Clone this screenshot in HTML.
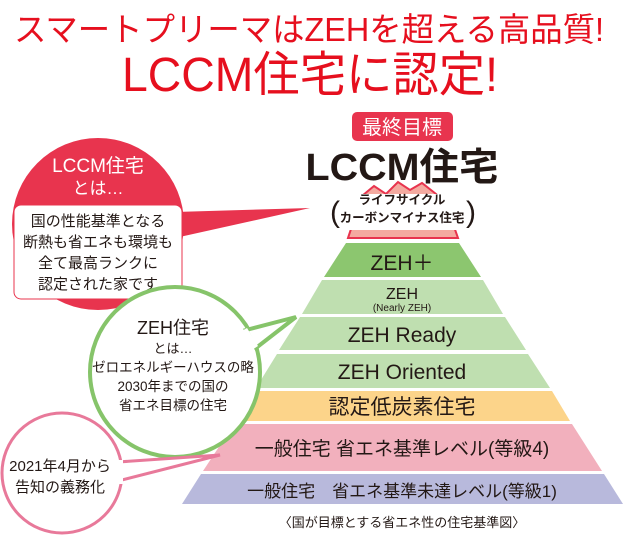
<!DOCTYPE html>
<html><head><meta charset="utf-8"><style>
html,body{margin:0;padding:0;background:#fff;}
svg{display:block;font-family:"Liberation Sans","Noto Sans CJK JP",sans-serif;}
</style></head><body>
<svg width="639" height="538" viewBox="0 0 639 538" xmlns="http://www.w3.org/2000/svg">
<text x="14" y="41" font-size="33" fill="#e60f1e" textLength="590" lengthAdjust="spacingAndGlyphs">スマートプリーマはZEHを超える高品質!</text>
<text x="122" y="91" font-size="48" fill="#e60f1e" textLength="376" lengthAdjust="spacingAndGlyphs">LCCM住宅に認定!</text>

<!-- pyramid -->
<polygon points="346,243 459,243 481,277 324,277" fill="#8cc66f"/>
<polygon points="322,280 483,280 503,314 302,314" fill="#bfdfb0"/>
<polygon points="300,317 505,317 526,350 279,350" fill="#bfdfb0"/>
<polygon points="277,354 528,354 550,388 256,388" fill="#bfdfb0"/>
<polygon points="254,391 552,391 570,421 236,421" fill="#fcd48a"/>
<polygon points="234,424 572,424 602,471 203,471" fill="#f2b0bd"/>
<polygon points="201,474 604,474 623,504 182,504" fill="#b8b9dc"/>
<!-- top mountain -->
<polygon points="348,238 362,196 374,186 386,194 398,182 410,190 422,183 436,194 446,204 458,238" fill="#f4aaa0" stroke="#e8344e" stroke-width="2"/>
<rect x="338" y="194" width="128" height="36" fill="#fff"/>

<g fill="#231815" text-anchor="middle">
<text x="402" y="270" font-size="21">ZEH＋</text>
<text x="402" y="299" font-size="16">ZEH</text>
<text x="402" y="311" font-size="10">(Nearly ZEH)</text>
<text x="402" y="342" font-size="21">ZEH Ready</text>
<text x="402" y="379" font-size="21">ZEH Oriented</text>
<text x="402" y="414" font-size="21">認定低炭素住宅</text>
<text x="402" y="455" font-size="19">一般住宅 省エネ基準レベル(等級4)</text>
<text x="402" y="497" font-size="17">一般住宅　省エネ基準未達レベル(等級1)</text>
<text x="402" y="527" font-size="13">〈国が目標とする省エネ性の住宅基準図〉</text>
</g>

<!-- top labels -->
<rect x="352" y="112" width="101" height="29" rx="5" fill="#e8344e"/>
<text x="402" y="134" font-size="20" fill="#fff" text-anchor="middle">最終目標</text>
<text x="402" y="180" font-size="38" font-weight="bold" fill="#231815" text-anchor="middle" textLength="193" lengthAdjust="spacingAndGlyphs">LCCM住宅</text>
<text x="330" y="222" font-size="30" fill="#231815">(</text>
<text x="466" y="222" font-size="30" fill="#231815">)</text>
<text x="402" y="204" font-size="12.5" font-weight="bold" fill="#231815" text-anchor="middle">ライフサイクル</text>
<text x="402" y="222" font-size="12.5" font-weight="bold" fill="#231815" text-anchor="middle">カーボンマイナス住宅</text>

<!-- red bubble -->
<polygon points="175,212 310,208 175,238" fill="#e8344e"/>
<circle cx="98" cy="224" r="86" fill="#e8344e"/>
<rect x="14" y="205" width="168" height="94" rx="7" fill="#fff" stroke="#e8344e" stroke-width="1"/>
<g text-anchor="middle">
<text x="98" y="172" font-size="19" fill="#fff">LCCM住宅</text>
<text x="98" y="194" font-size="17" fill="#fff">とは…</text>
<text x="98" y="226" font-size="15" fill="#231815">国の性能基準となる</text>
<text x="98" y="247" font-size="15" fill="#231815">断熱も省エネも環境も</text>
<text x="98" y="268" font-size="15" fill="#231815">全て最高ランクに</text>
<text x="98" y="289" font-size="15" fill="#231815">認定された家です</text>
</g>

<!-- green bubble -->
<circle cx="175" cy="372" r="85" fill="#fff" stroke="#86c46a" stroke-width="4"/>
<polygon points="246,330 296,317 256,348" fill="#fff" stroke="#86c46a" stroke-width="4" stroke-linejoin="miter"/>
<polygon points="240,332 252,350 258,346 247,328" fill="#fff"/>
<g text-anchor="middle" fill="#231815">
<text x="173" y="334" font-size="18">ZEH住宅</text>
<text x="173" y="353" font-size="13">とは…</text>
<text x="173" y="372" font-size="13.5">ゼロエネルギーハウスの略</text>
<text x="173" y="391" font-size="13.5">2030年までの国の</text>
<text x="173" y="410" font-size="13.5">省エネ目標の住宅</text>
</g>

<!-- pink bubble -->
<circle cx="62" cy="473" r="60" fill="#fff" stroke="#e8799a" stroke-width="3"/>
<polygon points="118,462 220,455 118,481" fill="#fff" stroke="#e8799a" stroke-width="3"/>
<polygon points="112,460 123,460 123,484 112,484" fill="#fff"/>
<g text-anchor="middle" fill="#231815">
<text x="60" y="471" font-size="15">2021年4月から</text>
<text x="60" y="492" font-size="15">告知の義務化</text>
</g>
</svg>
</body></html>
